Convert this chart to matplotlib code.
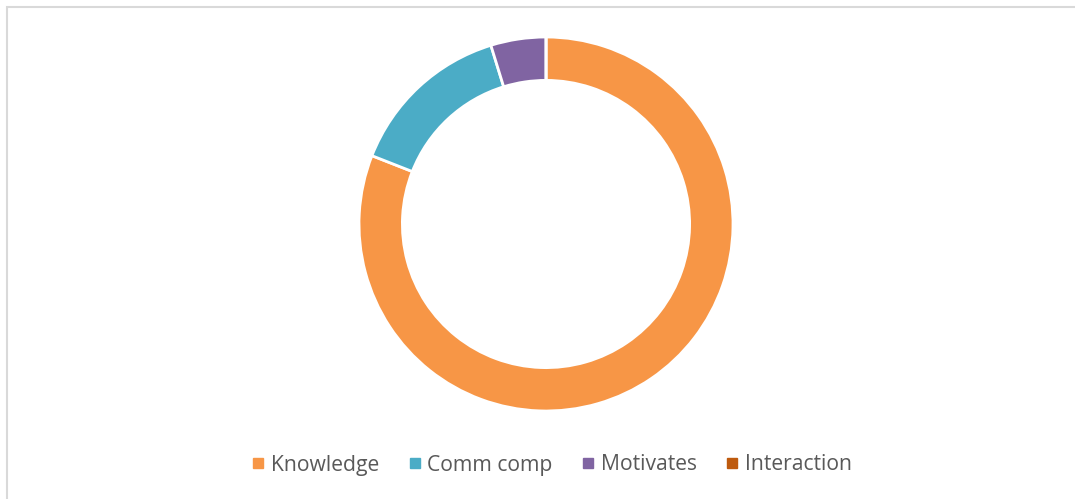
import matplotlib.pyplot as plt
from matplotlib.patches import Rectangle
from matplotlib.lines import Line2D

categories = ['Knowledge', 'Comm comp', 'Motivates', 'Interaction']
values = [17, 3, 1, 0]
colors = ['#F79646', '#4BACC6', '#8064A2', '#BE5A0E']

W, H = 1075, 499
fig = plt.figure(figsize=(W / 100, H / 100), dpi=100)

# light grey chart frame (cut off on right and bottom)
fig.patches.append(Rectangle((6.5 / W, -0.1), 1.2, 1 - 6.5 / H + 0.1,
                             transform=fig.transFigure, fill=False,
                             edgecolor='#D9D9D9', linewidth=1.5))

cx, cy, r = 546, 224, 187
ax = fig.add_axes([(cx - r) / W, (H - cy - r) / H, 2 * r / W, 2 * r / H])
ax.pie(values, colors=colors, startangle=90, counterclock=False, radius=1,
       wedgeprops=dict(width=0.232, edgecolor='white', linewidth=2))
ax.set_xlim(-1, 1)
ax.set_ylim(-1, 1)
ax.set_aspect('equal')
ax.axis('off')

handles = [Line2D([], [], marker='s', linestyle='none', markersize=6.5,
                  markerfacecolor=c, markeredgecolor=c) for c in colors]
fig.legend(handles, categories, loc='center', ncol=4, frameon=False,
           bbox_to_anchor=(552 / W, 1 - 465 / H),
           labelcolor='#595959', prop={'family': 'Open Sans', 'size': 15.2},
           handletextpad=0.3, columnspacing=1.38, handlelength=0.6)

fig.savefig('out.png', dpi=100)
